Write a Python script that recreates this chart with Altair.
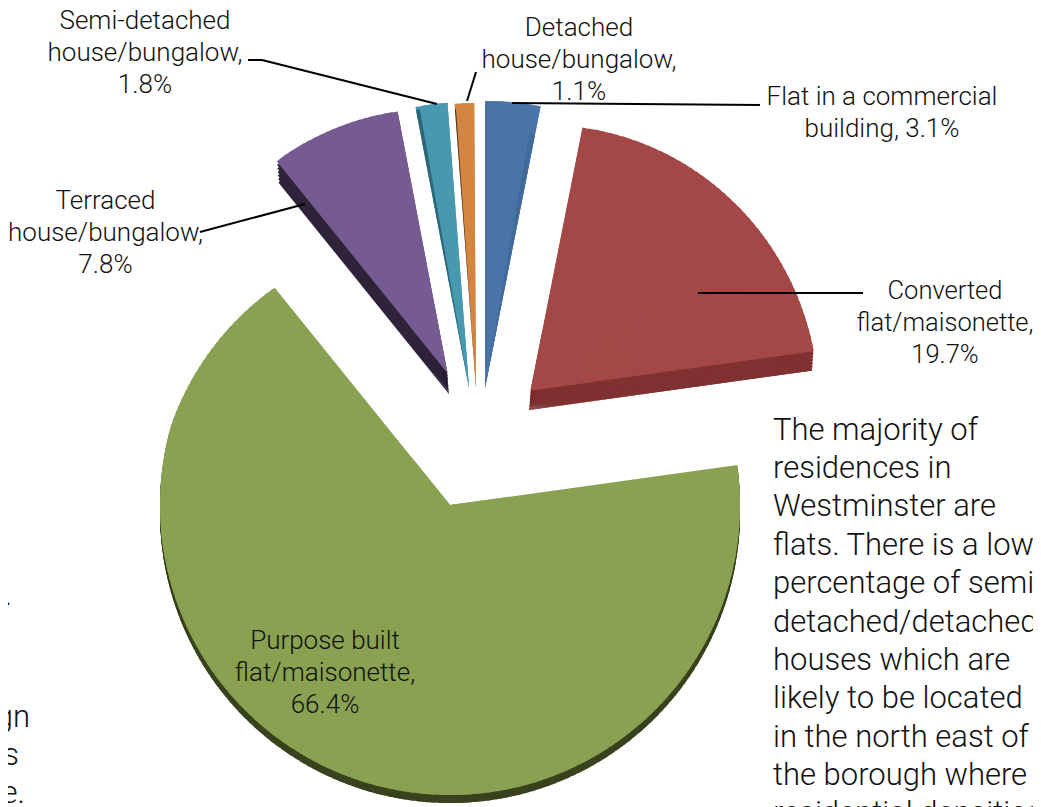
import altair as alt
import pandas as pd

categories = ["Flat in a commercial building", "Converted flat/maisonette", "Purpose built flat/maisonette",
              "Terraced house/bungalow", "Semi-detached house/bungalow", "Detached house/bungalow"]
shares = [3.1, 19.7, 66.4, 7.8, 1.8, 1.1]

label_lines = [
    ["Flat in a commercial", "building, 3.1%"],
    ["Converted", "flat/maisonette,", "19.7%"],
    ["Purpose built", "flat/maisonette,", "66.4%"],
    ["Terraced", "house/bungalow,", "7.8%"],
    ["Semi-detached", "house/bungalow,", "1.8%"],
    ["Detached", "house/bungalow,", "1.1%"],
]
paragraph_right = ["The majority of", "residences in", "Westminster are", "flats. There is a low",
                   "percentage of semi-", "detached/detached", "houses which are", "likely to be located",
                   "in the north east of", "the borough where", "residential densities"]
fragments_left = [".", "ign", "s", "e."]

M = 8
FONT = "Roboto"
W, H = 1025, 799

# layout: (cx, cy, radius at slice start, radius at slice end, colour, edge colour, edge cx, edge cy)
layout = [
    (485, 388, 287, 287, "#4a74a8", None, 0, 0),
    (530.5, 390.5, 268, 286, "#a34846", "#7f3231", 529, 410),
    (450, 505, 290, 279, "#89a151", "#39431f", 450, 513),
    (447.5, 373, 272, 266, "#755b91", "#2e2339", 449, 394),
    (469, 388, 286, 286, "#4898b0", None, 0, 0),
    (476, 388, 285, 285, "#d48540", None, 0, 0),
]

cum = [0]
for s in shares:
    cum.append(cum[-1] + s)

theta_scale = alt.Scale(domain=[0, 100], range=[0, 6.283185307])
STEP = 0.4  # percent of the pie per piece of outline
LAP = 0.3   # each piece runs under the next so no seam shows
GREEN_HOLD = 0.85  # the large slice keeps its radius for this part of its sweep


def wedge_frame(i):
    start, end = cum[i], cum[i + 1]
    r0, r1 = layout[i][2], layout[i][3]
    rows = []
    a = start
    while a < end - 1e-9:
        b = min(a + STEP, end)
        t = ((a + b) / 2 - start) / (end - start)
        if i == 2:
            t = max(0, (t - GREEN_HOLD) / (1 - GREEN_HOLD))
        rows.append({"start": a, "end": min(b + LAP, end), "r": r0 + (r1 - r0) * t})
        a = b
    return pd.DataFrame(rows)


def slice_layer(i, cx, cy, color):
    return alt.Chart(wedge_frame(i)).mark_arc(color=color).encode(
        theta=alt.Theta("start:Q", scale=theta_scale),
        theta2=alt.Theta2("end:Q"),
        radius=alt.Radius("r:Q", scale=None),
        x=alt.value(cx - M), y=alt.value(cy - M),
    )


def sliver(start, end, cx, cy, r, color):
    df = pd.DataFrame({"start": [start], "end": [end]})
    return alt.Chart(df).mark_arc(radius=r, color=color).encode(
        theta=alt.Theta("start:Q", scale=theta_scale),
        theta2=alt.Theta2("end:Q"),
        x=alt.value(cx - M), y=alt.value(cy - M),
    )


layers = []
STEPS = 6
for i in [2, 1, 3, 0, 4, 5]:
    cx, cy, r0, r1, col, ecol, ex, ey = layout[i]
    if ecol:
        for k in range(STEPS, 0, -1):
            t = k / STEPS
            layers.append(slice_layer(i, cx + (ex - cx) * t, cy + (ey - cy) * t, ecol))
    layers.append(slice_layer(i, cx, cy, col))
    # one clean piece over the point, where the many outline pieces meet
    layers.append(sliver(cum[i], cum[i + 1], cx, cy, 60, col))

# thin shaded side faces seen along the narrow slices
layers.append(sliver(cum[1] - 0.35, cum[1], 485, 388, 258, "#426a99"))
layers.append(sliver(cum[4], cum[4] + 0.22, 469, 388, 283, "#2c6678"))
layers.append(sliver(cum[5], cum[5] + 0.06, 476, 388, 280, "#4a3420"))


def line(x1, y1, x2, y2):
    return alt.Chart(pd.DataFrame({"a": [0]})).mark_rule(color="black", strokeWidth=2).encode(
        x=alt.value(x1 - M), y=alt.value(y1 - M), x2=alt.value(x2 - M), y2=alt.value(y2 - M))


for seg in [(248, 60, 262, 60), (262, 60, 437, 104), (476, 72, 467, 101), (512, 103, 760, 105),
            (698, 293, 863, 293), (200, 232, 305, 204)]:
    layers.append(line(*seg))


def text(lines, x, y, size, lh, align="center"):
    return alt.Chart(pd.DataFrame({"a": [0]})).mark_text(
        font=FONT, fontWeight=300, fontSize=size, lineHeight=lh, align=align, baseline="alphabetic",
        color="#111111").encode(x=alt.value(x - M), y=alt.value(y - M), text=alt.value(lines))


label_pos = [(882, 105), (945, 299), (325, 649), (105.5, 209), (145, 29), (579, 36)]
label_size = [26, 25.5, 26, 26, 26, 26]
for lines, (x, y), size in zip(label_lines, label_pos, label_size):
    layers.append(text(lines, x, y, size, 32))

layers.append(text(paragraph_right, 773, 439.5, 31, 38.4, "left"))
for frag, x, y in zip(fragments_left, [12, 30, 19, 25], [605, 727, 765, 803]):
    layers.append(text([frag], x, y, 31, 38.4, "right"))

chart = alt.layer(*layers).properties(
    width=W, height=H, padding=0, autosize=alt.AutoSizeParams(type="none"),
).configure_view(stroke=None)

chart.save("out.html", embed_options={"renderer": "svg", "actions": False})
